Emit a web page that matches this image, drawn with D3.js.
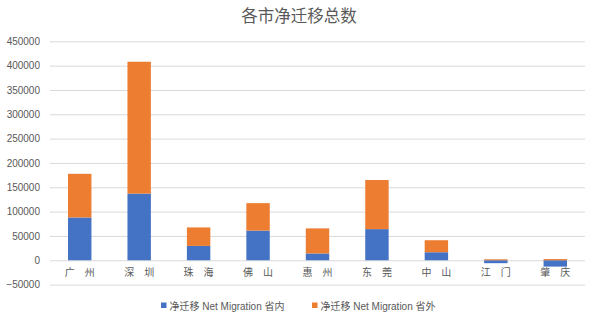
<!DOCTYPE html>
<html>
<head>
<meta charset="utf-8">
<script src="https://cdn.jsdelivr.net/npm/d3@7/dist/d3.min.js"></script>
<style>
  html, body { margin: 0; padding: 0; background: #fff; }
  svg { display: block; }
  text { font-family: "Liberation Sans", "Noto Sans CJK SC", sans-serif; fill: #595959; }
</style>
</head>
<body>
<svg id="chart" width="594" height="323"></svg>
<script>
// Net migration per city (persons)
const cities = ["广州", "深圳", "珠海", "佛山", "惠州", "东莞", "中山", "江门", "肇庆"];
const withinProvince = [88000, 137000, 29500, 61000, 14000, 64000, 16500, -6000, -13000];
const outsideProvince = [89700, 271000, 38000, 56400, 51500, 100900, 24700, 2000, 2500];
const seriesNames = ["净迁移 Net Migration 省内", "净迁移 Net Migration 省外"];
const seriesColors = ["#4472C4", "#ED7D31"];
const yTicks = [-50000, 0, 50000, 100000, 150000, 200000, 250000, 300000, 350000, 400000, 450000];
const title = "各市净迁移总数";

const svg = d3.select("#chart");
const W = 594;

const x = d3.scaleBand()
  .domain(cities)
  .range([50, 585])
  .paddingInner(0.606)
  .paddingOuter(0.303);

const y = d3.scaleLinear()
  .domain([-50000, 450000])
  .range([284.6, 41.3]);

// Title
svg.append("text")
  .attr("x", W / 2 + 2)
  .attr("y", 22)
  .attr("text-anchor", "middle")
  .style("font-size", "16.5px")
  .text(title);

// Gridlines and y tick labels
const yAxis = d3.axisLeft(y)
  .tickValues(yTicks)
  .tickSize(-(585 - 50))
  .tickPadding(10)
  .tickFormat(d3.format("d"));

const gy = svg.append("g")
  .attr("transform", "translate(50,0)")
  .call(yAxis);
gy.select(".domain").remove();
gy.selectAll(".tick line").attr("stroke", "#D9D9D9").attr("stroke-width", 1);
gy.selectAll(".tick text")
  .style("font-size", "10px")
  .style("fill", "#595959")
  .attr("font-family", "Liberation Sans, sans-serif");

// Stacked bars (negative values stack below zero)
const rows = cities.map((c, i) => ({ city: c, a: withinProvince[i], b: outsideProvince[i] }));
const stacked = d3.stack()
  .keys(["a", "b"])
  .offset(d3.stackOffsetDiverging)(rows);

svg.append("g")
  .selectAll("g")
  .data(stacked)
  .join("g")
  .attr("fill", (d, i) => seriesColors[i])
  .selectAll("rect")
  .data(d => d)
  .join("rect")
  .attr("x", d => x(d.data.city))
  .attr("width", x.bandwidth())
  .attr("y", d => y(Math.max(d[0], d[1])))
  .attr("height", d => Math.abs(y(d[0]) - y(d[1])));

// Category labels
svg.append("g")
  .selectAll("text")
  .data(cities)
  .join("text")
  .attr("x", d => x(d) + x.bandwidth() / 2)
  .attr("y", 276)
  .attr("text-anchor", "middle")
  .style("font-size", "10px")
  .text(d => d.split("").join("\u3000"));

// Legend
const legendX = [161, 312];
const legend = svg.append("g");
seriesNames.forEach((name, i) => {
  legend.append("rect")
    .attr("x", legendX[i])
    .attr("y", 302.5)
    .attr("width", 5.5)
    .attr("height", 5.5)
    .attr("fill", seriesColors[i]);
  legend.append("text")
    .attr("x", legendX[i] + 8.5)
    .attr("y", 309.5)
    .style("font-size", "10px")
    .text(name);
});
</script>
</body>
</html>
